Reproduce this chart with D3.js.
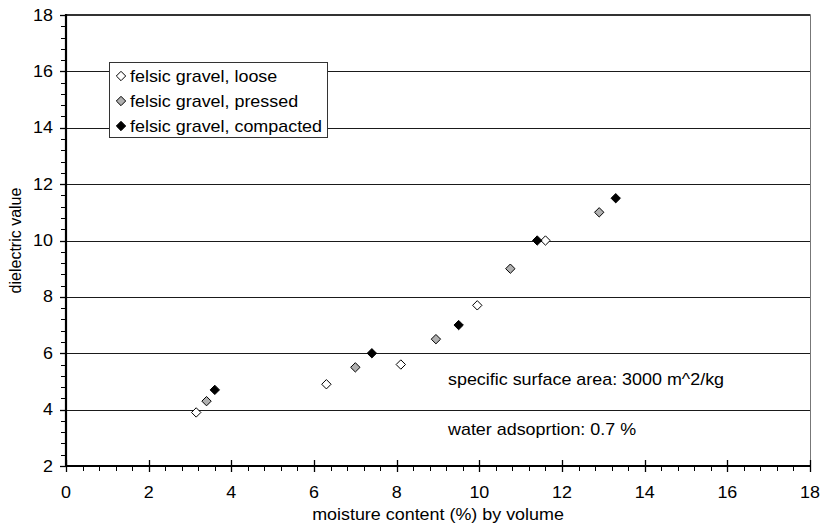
<!DOCTYPE html>
<html>
<head>
<meta charset="utf-8">
<script src="https://cdn.jsdelivr.net/npm/d3@7/dist/d3.min.js"></script>
<style>
  html, body { margin: 0; padding: 0; background: #fff; }
  svg { display: block; font-family: "Liberation Sans", Arial, sans-serif; }
</style>
</head>
<body>
<svg id="chart" width="822" height="530"></svg>
<script>
// Moisture content (% by volume) vs dielectric value, three compaction states
const looseX = [3.15, 6.3, 8.1, 9.95, 11.6];
const looseY = [3.9, 4.9, 5.6, 7.7, 10.0];
const pressedX = [3.4, 7.0, 8.95, 10.75, 12.9];
const pressedY = [4.3, 5.5, 6.5, 9.0, 11.0];
const compactedX = [3.6, 7.4, 9.5, 11.4, 13.3];
const compactedY = [4.7, 6.0, 7.0, 10.0, 11.5];

const seriesNames = ["felsic gravel, loose", "felsic gravel, pressed", "felsic gravel, compacted"];
const seriesFills = ["#ffffff", "#b0b0b0", "#000000"];

const xTicks = [0, 2, 4, 6, 8, 10, 12, 14, 16, 18];
const yTicks = [2, 4, 6, 8, 10, 12, 14, 16, 18];
const xTitle = "moisture content (%) by volume";
const yTitle = "dielectric value";
const notes = ["specific surface area: 3000 m^2/kg", "water adsoprtion: 0.7 %"];

const series = [
  { name: seriesNames[0], fill: seriesFills[0], pts: looseX.map((v, i) => [v, looseY[i]]) },
  { name: seriesNames[1], fill: seriesFills[1], pts: pressedX.map((v, i) => [v, pressedY[i]]) },
  { name: seriesNames[2], fill: seriesFills[2], pts: compactedX.map((v, i) => [v, compactedY[i]]) }
];

const svg = d3.select("#chart");
const pL = 66, pR = 810, pT = 15, pB = 466;
const x = d3.scaleLinear().domain([0, 18]).range([pL, pR]);
const y = d3.scaleLinear().domain([2, 18]).range([pB, pT]);
const FS = 16, SX = 1.12;

// horizontal grid lines
svg.append("g").selectAll("line")
  .data(yTicks.filter(v => v > 2 && v < 18))
  .join("line")
  .attr("x1", pL).attr("x2", pR)
  .attr("y1", d => Math.round(y(d)) + 0.5).attr("y2", d => Math.round(y(d)) + 0.5)
  .attr("stroke", "#1a1a1a").attr("stroke-width", 1);

// plot frame: top and right edges
svg.append("line").attr("x1", pL).attr("x2", pR + 0.5)
  .attr("y1", y(18)).attr("y2", y(18))
  .attr("stroke", "#333").attr("stroke-width", 2.2);
svg.append("line").attr("x1", pR + 0.5).attr("x2", pR + 0.5)
  .attr("y1", y(18)).attr("y2", pB)
  .attr("stroke", "#777").attr("stroke-width", 1);

// minor ticks (every 0.4)
const minorX = d3.range(0, 18.001, 0.4).map(v => +v.toFixed(1));
const minorY = d3.range(2, 18.001, 0.4).map(v => +v.toFixed(1));
svg.append("g").selectAll("line").data(minorX).join("line")
  .attr("x1", d => Math.round(x(d)) + 0.5).attr("x2", d => Math.round(x(d)) + 0.5)
  .attr("y1", pB).attr("y2", pB + 5)
  .attr("stroke", "#000").attr("stroke-width", 1);
svg.append("g").selectAll("line").data(minorY).join("line")
  .attr("y1", d => Math.round(y(d)) + 0.5).attr("y2", d => Math.round(y(d)) + 0.5)
  .attr("x1", pL - 5).attr("x2", pL)
  .attr("stroke", "#000").attr("stroke-width", 1);

// major ticks
svg.append("g").selectAll("line").data(xTicks).join("line")
  .attr("x1", d => Math.round(x(d)) + 0.5).attr("x2", d => Math.round(x(d)) + 0.5)
  .attr("y1", pB - 6).attr("y2", pB + 6)
  .attr("stroke", "#000").attr("stroke-width", 1.3);
svg.append("g").selectAll("line").data(yTicks).join("line")
  .attr("y1", d => Math.round(y(d)) + 0.5).attr("y2", d => Math.round(y(d)) + 0.5)
  .attr("x1", pL - 6).attr("x2", pL + 1)
  .attr("stroke", "#000").attr("stroke-width", 1.3);

// axis lines
svg.append("line").attr("x1", pL).attr("x2", pR + 1)
  .attr("y1", pB).attr("y2", pB)
  .attr("stroke", "#000").attr("stroke-width", 2.2);
svg.append("line").attr("x1", pL).attr("x2", pL)
  .attr("y1", pT - 1).attr("y2", pB + 1)
  .attr("stroke", "#000").attr("stroke-width", 2.2);

// tick labels
svg.append("g").selectAll("text").data(xTicks).join("text")
  .attr("transform", d => `translate(${x(d)},${pB + 32}) scale(${SX},1)`)
  .attr("text-anchor", "middle").attr("font-size", FS).attr("fill", "#000")
  .text(d => d);
svg.append("g").selectAll("text").data(yTicks).join("text")
  .attr("transform", d => `translate(${pL - 13},${y(d) + 5.5}) scale(${SX},1)`)
  .attr("text-anchor", "end").attr("font-size", FS).attr("fill", "#000")
  .text(d => d);

// axis titles
svg.append("text")
  .attr("transform", `translate(${(pL + pR) / 2},${pB + 54}) scale(${SX},1)`)
  .attr("text-anchor", "middle").attr("font-size", FS).text(xTitle);
svg.append("text")
  .attr("transform", `translate(21,${(pT + pB) / 2}) rotate(-90)`)
  .attr("text-anchor", "middle").attr("font-size", FS).text(yTitle);

// annotations
svg.append("g").selectAll("text").data(notes).join("text")
  .attr("transform", (d, i) => `translate(448,${y(4) - 25 + i * 50}) scale(${SX},1)`)
  .attr("font-size", FS).text(d => d);

// markers
const diamond = d3.symbol().type(d3.symbolDiamond2).size(56);
series.forEach(s => {
  svg.append("g").selectAll("path").data(s.pts).join("path")
    .attr("d", diamond)
    .attr("transform", d => `translate(${x(d[0])},${y(d[1])})`)
    .attr("fill", s.fill).attr("stroke", "#000").attr("stroke-width", 1);
});

// legend
const lg = svg.append("g").attr("transform", "translate(109.5,62.5)");
lg.append("rect").attr("width", 218).attr("height", 75)
  .attr("fill", "#fff").attr("stroke", "#333").attr("stroke-width", 1);
series.forEach((s, i) => {
  const cy = 13.5 + i * 25;
  lg.append("path").attr("d", diamond)
    .attr("transform", `translate(11.5,${cy})`)
    .attr("fill", s.fill).attr("stroke", "#000").attr("stroke-width", 1);
  lg.append("text")
    .attr("transform", `translate(20.5,${cy + 5.5}) scale(${SX},1)`)
    .attr("font-size", FS).text(s.name);
});
</script>
</body>
</html>
